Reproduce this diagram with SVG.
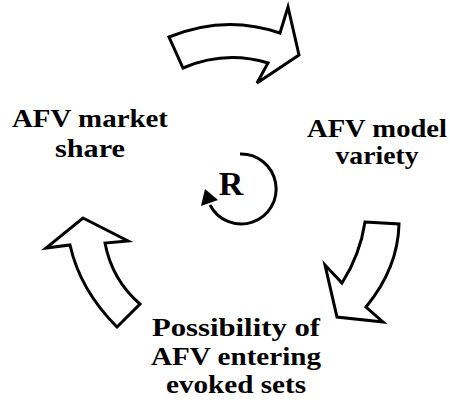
<svg xmlns="http://www.w3.org/2000/svg" width="450" height="402" viewBox="0 0 450 402">
  <style>
    .flow { fill: #fff; stroke: #000; stroke-width: 3; stroke-linejoin: miter; }
    .loop { fill: none; stroke: #000; stroke-width: 3; }
  </style>
  <rect width="450" height="402" fill="#fff"/>

  <g id="connectors">
    <!-- market share -> model variety -->
    <path class="flow" d="M169,37 Q225,14 280,33 L288,7 L299,55 L257,83 L268,63 Q225,50 183,68 Z"/>
    <!-- model variety -> evoked sets -->
    <path class="flow" d="M365,222 L399,224 Q398,268 366,307 L383,322 L337,317 L325,265 L342,283 Q360,255 365,222 Z"/>
    <!-- evoked sets -> market share -->
    <path class="flow" d="M83,218 L128,241 L105,243 Q112,280 140,304 L117,327 Q80,290 70,245 L46,248 Z"/>
  </g>

  <g id="loop-R">
    <path class="loop" d="M240,154 A35,35 0 1 1 210,205"/>
    <polygon points="205,189 201,206 218,200" fill="#000"/>
    <text x="231" y="195" font-family="Liberation Serif, Times New Roman, serif" font-weight="bold" font-size="34" text-anchor="middle">R</text>
  </g>

  <g font-family="Liberation Serif, Times New Roman, serif" font-weight="bold" font-size="26" text-anchor="middle" fill="#000">
    <g id="node-market-share">
      <text x="90" y="127" textLength="156" lengthAdjust="spacingAndGlyphs">AFV market</text>
      <text x="90" y="157" textLength="70" lengthAdjust="spacingAndGlyphs">share</text>
    </g>
    <g id="node-model-variety">
      <text x="377" y="137" textLength="140" lengthAdjust="spacingAndGlyphs">AFV model</text>
      <text x="377" y="164" textLength="83" lengthAdjust="spacingAndGlyphs">variety</text>
    </g>
    <g id="node-evoked-sets">
      <text x="236" y="336" textLength="168" lengthAdjust="spacingAndGlyphs">Possibility of</text>
      <text x="236" y="365" textLength="170" lengthAdjust="spacingAndGlyphs">AFV entering</text>
      <text x="236" y="393" textLength="140" lengthAdjust="spacingAndGlyphs">evoked sets</text>
    </g>
  </g>
</svg>
